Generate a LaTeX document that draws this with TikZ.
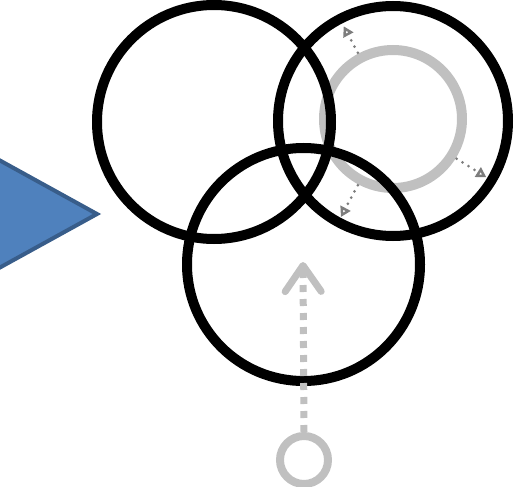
\documentclass[tikz,border=0pt]{standalone}
\usetikzlibrary{arrows.meta}
\definecolor{triFill}{RGB}{79,129,189}
\definecolor{triEdge}{RGB}{56,93,138}
\definecolor{ringGray}{RGB}{192,192,192}
\definecolor{dotGray}{RGB}{125,125,125}
\tikzset{
  bigring/.style={draw=black, line width=10pt},
  grayring/.style={draw=ringGray, line width=10pt},
  radarrow/.style={draw=dotGray, line width=3pt, line cap=round, dash pattern=on 0pt off 7pt,
    -{Triangle[open, length=10pt, width=11pt, line width=2.5pt, sep=0pt]}},
  uparrow/.style={draw=ringGray, line width=7pt, dash pattern=on 7pt off 7pt,
    -{Straight Barb[length=26pt, width=36pt, line width=7pt, round]}},
}
\begin{document}
\begin{tikzpicture}[x=1pt, y=-1pt]
  \useasboundingbox (0,0) rectangle (520,487);
  % blue triangle
  \draw[fill=triFill, draw=triEdge, line width=4pt, line join=miter]
    (-10,155) -- (97,214) -- (-10,273) -- cycle;
  % gray ring and radial arrows
  \coordinate (gc) at (393,119);
  \draw[grayring] (gc) circle (69);
  \path (gc) ++(-118:75) coordinate (a1s) ++(-118:30) coordinate (a1e);
  \path (gc) ++(32:75) coordinate (a2s) ++(32:35) coordinate (a2e);
  \path (gc) ++(118:75) coordinate (a3s) ++(118:36) coordinate (a3e);
  % black circles
  \node[bigring, circle, minimum size=234pt, inner sep=0pt] (c1) at (214,122) {};
  \node[bigring, circle, minimum size=230pt, inner sep=0pt] (c2) at (393,121) {};
  \node[bigring, circle, minimum size=233pt, inner sep=0pt] (c3) at (303.5,264.5) {};
  \draw[radarrow] (a1s) -- (a1e);
  \draw[radarrow] (a2s) -- (a2e);
  \draw[radarrow] (a3s) -- (a3e);
  % bottom small ring and dashed arrow
  \node[draw=ringGray, line width=8pt, circle, minimum size=48pt, inner sep=0pt] (sc) at (304,460) {};
  \coordinate (tip) at (303,262);
  \draw[uparrow] (sc.north) -- (tip);
\end{tikzpicture}
\end{document}
